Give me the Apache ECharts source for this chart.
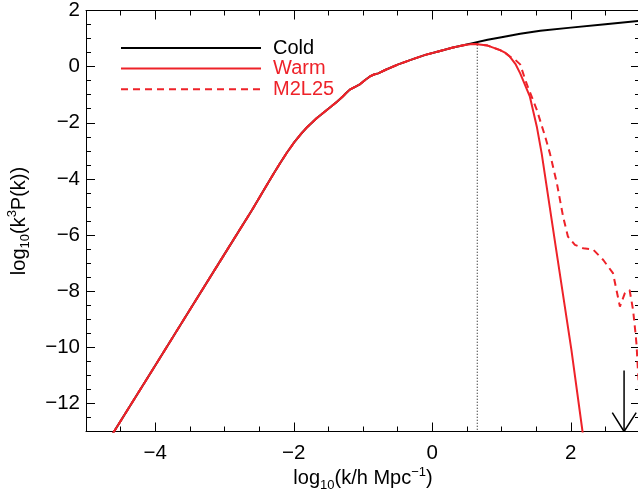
<!DOCTYPE html>
<html>
<head>
<meta charset="utf-8">
<script src="https://cdn.jsdelivr.net/npm/echarts@6/dist/echarts.min.js"></script>
<style>
  html, body { margin: 0; padding: 0; background: #fff; }
  #chart { width: 638px; height: 489px; }
</style>
</head>
<body>
<div id="chart"></div>
<script>
// log10(k) vs log10(k^3 P(k))
var sharedCurve = [
  [-4.62, -13.1], [-4.0, -10.65], [-3.5, -8.66], [-3.0, -6.68], [-2.6, -5.1],
  [-2.44, -4.43], [-2.3, -3.85], [-2.2, -3.45], [-2.1, -3.07], [-2.0, -2.72],
  [-1.9, -2.41], [-1.8, -2.14], [-1.67, -1.84], [-1.5, -1.5], [-1.38, -1.26],
  [-1.3, -1.08], [-1.25, -0.96], [-1.19, -0.82], [-1.1, -0.7], [-1.04, -0.62],
  [-0.96, -0.46], [-0.9, -0.35], [-0.84, -0.28], [-0.78, -0.24], [-0.68, -0.12],
  [-0.5, 0.07], [-0.3, 0.25], [-0.1, 0.42], [0.1, 0.55], [0.3, 0.68], [0.45, 0.76]
];
var coldTail = [
  [0.55, 0.82], [0.8, 0.96], [1.0, 1.05], [1.27, 1.17], [1.56, 1.28],
  [2.0, 1.39], [2.5, 1.51], [3.0, 1.63]
];
var warmTail = [
  [0.55, 0.8], [0.62, 0.81], [0.8, 0.75], [0.98, 0.59], [1.05, 0.5], [1.12, 0.36],
  [1.2, 0.1], [1.27, -0.24], [1.41, -1.07], [1.51, -2.14], [1.58, -3.09],
  [1.79, -6.53], [2.01, -10.1], [2.17, -13.0], [2.19, -13.4]
];
var m2l25Tail = [
  [0.55, 0.8], [0.62, 0.81], [0.8, 0.75], [0.98, 0.59], [1.05, 0.5], [1.12, 0.36],
  [1.2, 0.24], [1.27, 0.08], [1.36, -0.59], [1.51, -1.54], [1.63, -2.49],
  [1.7, -3.1], [1.8, -4.16], [1.89, -5.35], [1.96, -6.06], [2.06, -6.35],
  [2.18, -6.47], [2.32, -6.51], [2.47, -6.89], [2.61, -7.36], [2.71, -8.55],
  [2.78, -8.08], [2.85, -7.96], [2.9, -8.67], [2.93, -9.38], [2.95, -9.9],
  [2.97, -10.8], [3.0, -12.0]
];
var cutoffLine = [[0.65, 0.78], [0.65, -13]];
var arrowStem = [[2.77, -10.83], [2.77, -13]];
var arrowHead = [[2.6, -12.33], [2.77, -13], [2.945, -12.33]];

var xMajor = [-4, -2, 0, 2];
var yMajor = [-12, -10, -8, -6, -4, -2, 0, 2];

var FONT = '"Liberation Sans", Arial, Helvetica, sans-serif';
var RED = '#EE2229';

function minus(v) { return v < 0 ? '\u2212' + Math.abs(v) : String(v); }

var richName = {
  sub: { fontFamily: FONT, fontSize: 13, color: '#000', verticalAlign: 'bottom', lineHeight: 26 },
  sup: { fontFamily: FONT, fontSize: 13, color: '#000', verticalAlign: 'top', lineHeight: 26 }
};

function majorAxis(pos, range, ticks, withLabel) {
  return {
    type: 'value', position: pos, min: range[0], max: range[1], interval: 1,
    axisLine: { show: true, onZero: false, lineStyle: { color: '#000', width: 1 } },
    axisTick: { show: true, inside: true, length: 9, customValues: ticks, lineStyle: { color: '#000', width: 1 } },
    axisLabel: withLabel ? {
      customValues: ticks, formatter: minus, fontFamily: FONT, fontSize: 20.5, color: '#000',
      margin: pos === 'bottom' ? 11 : 6
    } : { show: false },
    splitLine: { show: false }
  };
}
function minorAxis(pos, range) {
  return {
    type: 'value', position: pos, min: range[0], max: range[1], interval: 0.5,
    axisLine: { show: false, onZero: false },
    axisTick: { show: true, inside: true, length: 5, lineStyle: { color: '#000', width: 1 } },
    axisLabel: { show: false },
    splitLine: { show: false }
  };
}

var xMain = majorAxis('bottom', [-5, 3], xMajor, true);
xMain.name = 'log{sub|10}(k/h Mpc{sup|\u22121})';
xMain.nameLocation = 'middle';
xMain.nameGap = 34;
xMain.nameMoveOverlap = false;
xMain.nameTextStyle = { fontFamily: FONT, fontSize: 20, color: '#000', lineHeight: 26, rich: richName };

var yMain = majorAxis('left', [-13, 2], yMajor, true);
yMain.name = 'log{sub|10}(k{sup|3}P(k))';
yMain.nameLocation = 'middle';
yMain.nameGap = 54;
yMain.nameRotate = 90;
yMain.nameMoveOverlap = false;
yMain.nameTextStyle = { fontFamily: FONT, fontSize: 20, color: '#000', lineHeight: 26, rich: richName };

function lineSeries(name, data, color, type, width) {
  return {
    name: name, type: 'line', data: data, xAxisIndex: 0, yAxisIndex: 0,
    symbol: 'none', clip: true, silent: true,
    lineStyle: { color: color, width: width, type: type },
    itemStyle: { color: color }
  };
}

var chart = echarts.init(document.getElementById('chart'), null, { renderer: 'canvas' });
chart.setOption({
  animation: false,
  backgroundColor: '#fff',
  grid: { left: 86, top: 10.5, width: 554, height: 421, containLabel: false, outerBoundsMode: 'none' },
  xAxis: [xMain, minorAxis('bottom', [-5, 3]), majorAxis('top', [-5, 3], xMajor, false), minorAxis('top', [-5, 3])],
  yAxis: [yMain, minorAxis('left', [-13, 2]), majorAxis('right', [-13, 2], yMajor, false), minorAxis('right', [-13, 2])],
  legend: {
    orient: 'vertical', left: 120, top: 38, padding: 0,
    itemWidth: 140, itemHeight: 14, itemGap: 0.6,
    selectedMode: false,
    itemStyle: { opacity: 0 },
    textStyle: { fontFamily: FONT, fontSize: 20, lineHeight: 20, padding: [0, 0, 0, 7] },
    data: [
      { name: 'Cold', textStyle: { color: '#000' } },
      { name: 'Warm', textStyle: { color: RED } },
      { name: 'M2L25', textStyle: { color: RED } }
    ]
  },
  series: [
    lineSeries('cutoff', cutoffLine, '#000', [1, 2], 1),
    lineSeries('Cold', sharedCurve.concat(coldTail), '#000', 'solid', 2),
    lineSeries('M2L25', sharedCurve.concat(m2l25Tail), RED, [7, 5], 2),
    lineSeries('Warm', sharedCurve.concat(warmTail), RED, 'solid', 2),
    lineSeries('arrow', arrowStem, '#000', 'solid', 1.5),
    lineSeries('arrowHead', arrowHead, '#000', 'solid', 1.5)
  ]
});
</script>
</body>
</html>
